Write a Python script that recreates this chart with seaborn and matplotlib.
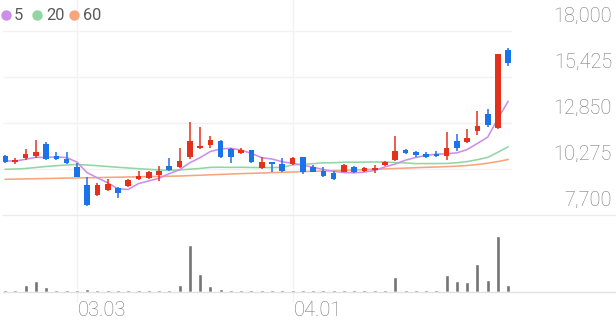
import numpy as np
import pandas as pd
import matplotlib
matplotlib.use("Agg")
import matplotlib.pyplot as plt
import matplotlib.transforms as mtransforms
from matplotlib.lines import Line2D
import seaborn as sns

# ---------------- data ----------------
dates = ["02.20", "02.21", "02.24", "02.25", "02.26", "02.27", "02.28", "03.03", "03.04", "03.05",
         "03.06", "03.07", "03.10", "03.11", "03.12", "03.13", "03.14", "03.17", "03.18", "03.19",
         "03.20", "03.21", "03.24", "03.25", "03.26", "03.27", "03.28", "03.31", "04.01", "04.02",
         "04.03", "04.04", "04.07", "04.08", "04.09", "04.10", "04.11", "04.14", "04.15", "04.16",
         "04.17", "04.18", "04.21", "04.22", "04.23", "04.24", "04.25", "04.28", "04.29", "04.30"]
tick_labels = ["03.03", "04.01"]

opens = [11003, 10670, 10910, 11000, 11675, 11000, 10850, 10370, 9380, 8820,
         9100, 9195, 9323, 9700, 9790, 9940, 10460, 10405, 10930, 11435,
         11620, 11860, 11395, 11190, 11340, 10315, 10630, 10540, 10540, 10930,
         10370, 10180, 10070, 10125, 10405, 10180, 10200, 10500, 10780, 11340,
         11245, 11115, 11115, 11003, 11860, 11803, 12420, 13354, 12553, 16936]
highs = [11060, 10910, 11380, 11900, 11770, 11226, 11210, 10595, 9810, 9475,
         9700, 9250, 9700, 10180, 10180, 10460, 10875, 11433, 12923, 12610,
         12122, 11900, 11435, 11435, 11360, 10965, 10685, 10875, 10930, 10965,
         10500, 10405, 10180, 10540, 10440, 10405, 10480, 10720, 12122, 11380,
         11283, 11245, 11283, 12330, 12234, 12514, 13522, 13617, 16730, 17030]
lows = [10630, 10555, 10780, 10875, 10780, 10780, 10540, 9810, 8204, 8780,
        9043, 8635, 9285, 9660, 9715, 9620, 10180, 10315, 10820, 11380,
        11435, 10890, 10595, 11115, 10630, 10275, 10090, 10090, 10500, 9995,
        10090, 9845, 9660, 10090, 10070, 10125, 10035, 10440, 10740, 11115,
        10930, 10910, 10930, 10780, 11300, 11713, 12178, 12643, 12530, 16040]
closes = [10670, 10780, 11100, 11240, 10820, 10820, 10595, 9845, 8260, 9380,
          9435, 8915, 9660, 9900, 10125, 10180, 10220, 10740, 11860, 11560,
          11900, 10930, 10930, 11340, 10650, 10685, 10555, 10163, 10910, 10125,
          10125, 9885, 9715, 10500, 10090, 10330, 10350, 10685, 11300, 11190,
          11060, 10965, 11000, 11433, 11433, 11993, 12682, 12738, 16696, 16225]
volumes = [20, 25, 73, 107, 47, 25, 22, 22, 27, 20,
           18, 18, 18, 18, 20, 20, 25, 73, 473, 180,
           63, 30, 22, 20, 20, 18, 18, 18, 20, 22,
           18, 18, 18, 18, 18, 18, 18, 20, 150, 20,
           18, 18, 20, 173, 107, 100, 277, 117, 563, 67]
ma5 = [10723, 10723, 10818, 10930, 10922, 10952, 10915, 10664, 10068, 9780,
       9503, 9167, 9130, 9458, 9607, 9756, 10017, 10233, 10625, 10912,
       11256, 11398, 11436, 11332, 11150, 10907, 10832, 10679, 10593, 10488,
       10376, 10242, 10152, 10070, 10063, 10104, 10197, 10391, 10551, 10771,
       10917, 11040, 11103, 11130, 11178, 11365, 11708, 12056, 13108, 14067]
ma20 = [10258, 10275, 10303, 10359, 10415, 10460, 10499, 10527, 10499, 10460,
        10415, 10370, 10331, 10292, 10258, 10219, 10195, 10225, 10265, 10305,
        10367, 10374, 10366, 10371, 10362, 10356, 10354, 10369, 10502, 10539,
        10574, 10622, 10625, 10655, 10653, 10661, 10667, 10664, 10636, 10618,
        10576, 10578, 10581, 10586, 10625, 10690, 10797, 10925, 11215, 11520]
ma60 = [9698, 9709, 9721, 9732, 9743, 9754, 9765, 9776, 9782, 9793,
        9805, 9816, 9827, 9838, 9849, 9860, 9872, 9883, 9905, 9928,
        9950, 9972, 9995, 10017, 10034, 10051, 10073, 10090, 10107, 10129,
        10146, 10163, 10185, 10202, 10219, 10241, 10258, 10280, 10303, 10325,
        10347, 10370, 10387, 10409, 10432, 10471, 10527, 10599, 10694, 10806]
price_ticks = [18000, 15425, 12850, 10275, 7700]
ma_names = ["5", "20", "60"]

# ---------------- style ----------------
sns.set_theme(style="white")
plt.rcParams["font.family"] = ["Roboto", "DejaVu Sans"]

RED = "#e5301c"
BLUE = "#1b73e8"
VOLC = "#737373"
MA_COLORS = ["#cc8eea", "#92d6a3", "#f6a57f"]
GRID = "#f2f2f2"
LABEL = "#777777"

W, H = 616, 321
fig = plt.figure(figsize=(W / 100, H / 100), dpi=100)
fig.patch.set_facecolor("white")

def fx(px):
    return px / W

def fy(py):
    return 1 - py / H

x_left, x_right = 3, 512
x0, step = 5.0, 10.27
xlim = ((x_left - x0) / step, (x_right - x0) / step)

# price axes : y=31px -> 18000, y=215px -> 7700
per_px = (18000 - 7700) / (215 - 31)
ax = fig.add_axes([fx(x_left), fy(215), fx(x_right - x_left), 215 / H])
ax.set_xlim(*xlim)
ax.set_ylim(7700, 18000 + 31 * per_px)

axv = fig.add_axes([fx(x_left), fy(292), fx(x_right - x_left), 77 / H])
axv.set_xlim(*xlim)
axv.set_ylim(0, 770)

for a in (ax, axv):
    a.set_facecolor("none")
    for s in a.spines.values():
        s.set_visible(False)
    a.set_xticks([])
    a.set_yticks([])
    a.grid(False)

df = pd.DataFrame({"idx": np.arange(len(dates)), "date": dates, "open": opens, "high": highs,
                   "low": lows, "close": closes, "vol": volumes,
                   "ma5": ma5, "ma20": ma20, "ma60": ma60})

# gridlines
for v in price_ticks[:-1]:
    ax.axhline(v, color=GRID, lw=1.0, zorder=0)
for lab in tick_labels:
    i = dates.index(lab)
    ax.axvline(i, color=GRID, lw=1.0, zorder=0)
    axv.axvline(i, ymin=-10 / 77, ymax=1, color=GRID, lw=1.0, zorder=0, clip_on=False)

fig.add_artist(Line2D([fx(3), 1], [fy(215), fy(215)], color="#ebebeb", lw=1.0))
fig.add_artist(Line2D([fx(3), 1], [fy(292), fy(292)], color="#e2e2e2", lw=1.0))

# moving averages
for name, col in zip(["ma60", "ma20", "ma5"], MA_COLORS[::-1]):
    sns.lineplot(data=df, x="idx", y=name, color=col, lw=1.15, ax=ax, legend=False, zorder=2)

# candles
min_body = 1.6 * per_px
for i, row in df.iterrows():
    up = row["close"] >= row["open"]
    c = RED if up else BLUE
    ax.vlines(row["idx"], row["low"], row["high"], color=c, lw=1.1, zorder=3)
    bottom = min(row["open"], row["close"])
    hgt = max(abs(row["close"] - row["open"]), min_body)
    ax.bar(row["idx"], hgt, bottom=bottom, width=0.55, color=c, lw=0, zorder=4)

# volume
sns.barplot(data=df, x="idx", y="vol", native_scale=True, color=VOLC, saturation=1,
            width=0.39, errorbar=None, ax=axv, zorder=3)
axv.set_xlim(*xlim)
axv.set_ylim(0, 770)
axv.set_xlabel("")
axv.set_ylabel("")
axv.set_xticks([])
axv.set_yticks([])
ax.set_xlabel("")
ax.set_ylabel("")
ax.set_xticks([])
ax.set_yticks([])

# price labels (right)
for v in price_ticks:
    ax.annotate(f"{v:,}", xy=(612 / W, v), xycoords=("figure fraction", "data"),
                xytext=(0, 15), textcoords="offset pixels", ha="right", va="center",
                fontsize=14.3, color=LABEL, fontweight="light", annotation_clip=False)

# date labels
tr = mtransforms.blended_transform_factory(axv.transData, fig.transFigure)
for lab in tick_labels:
    i = dates.index(lab)
    axv.text(i + 0.1, fy(310), lab, transform=tr, ha="left", va="center",
             fontsize=14.5, color=LABEL, fontweight="light")

# legend
lx = [5.7, 37.3, 74.0]
for name, col, x in zip(ma_names, MA_COLORS, lx):
    fig.add_artist(Line2D([fx(x)], [fy(15)], marker="o", markersize=6.5, color=col, lw=0))
    fig.text(fx(x + 8.5), fy(15.5), name, ha="left", va="center", fontsize=11.8,
             color="#5a5a5a", fontweight="normal")

fig.savefig("out.png", dpi=100, facecolor="white")
